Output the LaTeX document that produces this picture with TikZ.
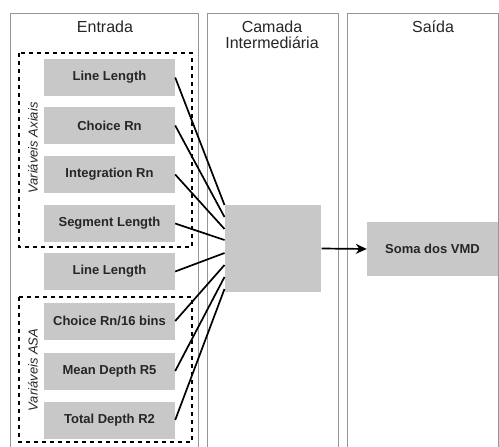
\documentclass[tikz,border=0pt]{standalone}
\usepackage{fontspec}
\setmainfont{Liberation Sans}
\usetikzlibrary{arrows.meta,calc}
\definecolor{boxgray}{RGB}{200,200,200}
\definecolor{panelgray}{RGB}{150,150,150}
\begin{document}
\begin{tikzpicture}[x=1pt,y=-1pt,
  inbox/.style={draw=none,fill=boxgray,minimum width=131pt,minimum height=37pt,inner sep=0pt,font=\fontsize{13}{15}\selectfont\bfseries,text=black!85},
  panel/.style={draw=panelgray,line width=0.6pt},
  groupbox/.style={draw=black,line width=1.6pt,dash pattern=on 4pt off 4pt},
  link/.style={draw=black,line width=1.7pt},
  title/.style={font=\fontsize{16}{18}\selectfont,text=black!85,align=center},
  grouplabel/.style={font=\fontsize{13}{15}\selectfont\itshape,text=black!85,rotate=90}]
\useasboundingbox (0,0) rectangle (499,447);
\fill[white] (0,0) rectangle (499,447);
% panels
\draw[panel] (10,447) -- (10,13) -- (198,13) -- (198,447);
\draw[panel] (207,447) -- (207,13) -- (338,13) -- (338,447);
\draw[panel] (347,447) -- (347,13) -- (498.5,13) -- (498.5,447);
\node[title] (t1) at (105,27) {Entrada};
\node[title,anchor=north] (t2) at (272,17) {Camada\\[-2pt]Intermediária};
\node[title] (t3) at (433,27) {Saída};
% group boxes
\draw[groupbox] (19,53) rectangle (192,247);
\draw[groupbox] (19,297) rectangle (192,442);
\node[grouplabel] (g1) at (33,148) {Variáveis Axiais};
\node[grouplabel] (g2) at (33,370) {Variáveis ASA};
% input boxes
\node[inbox] (in1) at (109.5,77.5) {Line Length};
\node[inbox] (in2) at (109.5,125.5) {Choice Rn};
\node[inbox] (in3) at (109.5,174.5) {Integration Rn};
\node[inbox] (in4) at (109.5,223.5) {Segment Length};
\node[inbox] (in5) at (109.5,271.5) {Line Length};
\node[inbox] (in6) at (109.5,321) {Choice Rn/16 bins};
\node[inbox] (in7) at (109.5,371) {Mean Depth R5};
\node[inbox] (in8) at (109.5,420) {Total Depth R2};
% hidden and output
\node[inbox,minimum width=96pt,minimum height=87pt] (hid) at (272.5,248.5) {};
\node[inbox,minimum width=131pt,minimum height=54pt] (out) at (432.5,249) {Soma dos VMD};
% endpoints on hidden box
\foreach \i/\yy in {1/205,2/217,3/229,4/240,5/253,6/265,7/277,8/289}{
  \coordinate (h\i) at (224.5,\yy);
}
\foreach \i in {1,...,8}{
  \draw[link] (in\i.east) -- (h\i);
}
\draw[link,-{Stealth[length=11pt,width=10pt]}] ($(hid.east)+(1,0)$) -- (out.west);
\end{tikzpicture}
\end{document}
